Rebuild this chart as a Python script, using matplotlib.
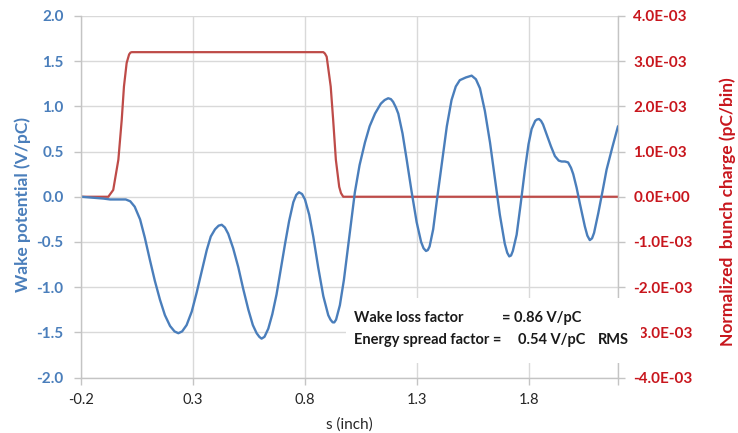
import matplotlib
matplotlib.use('Agg')
import matplotlib.pyplot as plt
from matplotlib.patches import Rectangle

plt.rcParams['font.family'] = ['Lato', 'DejaVu Sans']

# ---- data ----
s_wake = [-0.2, -0.15, -0.1, -0.07, -0.03, 0.0, 0.02, 0.04, 0.064, 0.085, 0.108, 0.13, 0.153,
          0.175, 0.198, 0.218, 0.235, 0.252, 0.272, 0.295, 0.317, 0.34, 0.362, 0.38, 0.399,
          0.415, 0.429, 0.443, 0.458, 0.48, 0.503, 0.525, 0.548, 0.568, 0.585, 0.597, 0.607,
          0.62, 0.637, 0.655, 0.674, 0.693, 0.712, 0.73, 0.749, 0.762, 0.774, 0.788, 0.801,
          0.82, 0.838, 0.86, 0.883, 0.905, 0.915, 0.925, 0.932, 0.94, 0.957, 0.975, 0.987,
          1.005, 1.024, 1.045, 1.069, 1.09, 1.114, 1.14, 1.157, 1.173, 1.185, 1.195, 1.207,
          1.218, 1.237, 1.255, 1.278, 1.30, 1.32, 1.331, 1.342, 1.35, 1.358, 1.374, 1.39,
          1.412, 1.435, 1.456, 1.475, 1.493, 1.52, 1.546, 1.565, 1.583, 1.605, 1.628, 1.65,
          1.672, 1.694, 1.705, 1.714, 1.722, 1.73, 1.747, 1.765, 1.784, 1.80, 1.814, 1.83,
          1.838, 1.847, 1.856, 1.865, 1.881, 1.90, 1.918, 1.935, 1.948, 1.963, 1.977, 1.99,
          2.0, 2.015, 2.03, 2.052, 2.063, 2.074, 2.084, 2.093, 2.112, 2.13, 2.149, 2.175, 2.2]
wake = [0.0, -0.01, -0.02, -0.03, -0.03, -0.03, -0.05, -0.11, -0.25, -0.45, -0.70, -0.93, -1.14,
        -1.31, -1.43, -1.49, -1.51, -1.49, -1.42, -1.27, -1.06, -0.82, -0.59, -0.44, -0.36,
        -0.32, -0.31, -0.34, -0.41, -0.57, -0.78, -1.02, -1.25, -1.42, -1.51, -1.55, -1.57,
        -1.55, -1.46, -1.30, -1.08, -0.80, -0.52, -0.27, -0.06, 0.02, 0.05, 0.03, -0.03,
        -0.20, -0.44, -0.78, -1.10, -1.31, -1.36, -1.39, -1.39, -1.36, -1.20, -0.92, -0.68,
        -0.32, 0.05, 0.35, 0.60, 0.78, 0.92, 1.03, 1.07, 1.09, 1.08, 1.05, 0.99,
        0.92, 0.70, 0.42, 0.05, -0.28, -0.50, -0.57, -0.60, -0.59, -0.55, -0.36, -0.05,
        0.36, 0.78, 1.07, 1.22, 1.29, 1.32, 1.34, 1.30, 1.20, 0.95, 0.60, 0.20,
        -0.20, -0.52, -0.62, -0.66, -0.65, -0.60, -0.42, -0.08, 0.30, 0.58, 0.75, 0.84,
        0.855, 0.86, 0.84, 0.80, 0.69, 0.56, 0.45, 0.40, 0.39, 0.39, 0.38, 0.32,
        0.25, 0.10, -0.08, -0.33, -0.43, -0.48, -0.46, -0.40, -0.18, 0.05, 0.30, 0.55, 0.78]

s_charge = [-0.2, -0.1, -0.078, -0.056, -0.033, -0.018, -0.008, 0.004, 0.015, 0.021, 0.027,
            0.883, 0.89, 0.898, 0.916, 0.927, 0.939, 0.954, 0.962, 0.972, 1.0, 2.2]
charge = [0.0, 0.0, 0.0, 0.15e-3, 0.82e-3, 1.7e-3, 2.44e-3, 2.96e-3, 3.15e-3, 3.19e-3, 3.2e-3,
          3.2e-3, 3.17e-3, 3.1e-3, 2.44e-3, 1.7e-3, 0.82e-3, 0.22e-3, 0.08e-3, 0.0, 0.0, 0.0]

x_ticks = [-0.2, 0.3, 0.8, 1.3, 1.8, 2.2]
x_tick_labels = ['-0.2', '0.3', '0.8', '1.3', '1.8', '']
left_ticks = [-2.0, -1.5, -1.0, -0.5, 0.0, 0.5, 1.0, 1.5, 2.0]
left_labels = ['-2.0', '-1.5', '-1.0', '-0.5', '0.0', '0.5', '1.0', '1.5', '2.0']
right_ticks = [-4e-3, -3e-3, -2e-3, -1e-3, 0.0, 1e-3, 2e-3, 3e-3, 4e-3]
right_labels = ['-4.0E-03', '-3.0E-03', '-2.0E-03', '-1.0E-03', '0.0E+00',
                '1.0E-03', '2.0E-03', '3.0E-03', '4.0E-03']

BLUE_LINE = '#4A7EBB'
RED_LINE = '#BE4B48'
BLUE_TXT = '#4A7EBB'
RED_TXT = '#C8161D'
GRID = '#D9D9D9'
SPINE = '#C4C4C4'

W, H = 738, 433
fig = plt.figure(figsize=(W / 100, H / 100), dpi=100)
L, R, T, B = 81, 618, 16, 377.5
ax = fig.add_axes([L / W, 1 - B / H, (R - L) / W, (B - T) / H])
ax2 = ax.twinx()
ax.set_zorder(2)
ax2.set_zorder(1)
ax.patch.set_visible(False)

ax2.plot(s_charge, charge, color=RED_LINE, lw=1.6, solid_capstyle='round', solid_joinstyle='round')
ax.plot(s_wake, wake, color=BLUE_LINE, lw=1.7, solid_capstyle='round', solid_joinstyle='round')

ax.set_xlim(-0.2, 2.2)
ax.set_ylim(-2.0, 2.0)
ax2.set_ylim(-4e-3, 4e-3)

ax.set_xticks(x_ticks, x_tick_labels, fontsize=10.5, color='#262626')
ax.set_yticks(left_ticks, left_labels, fontsize=11, fontweight='bold', color=BLUE_TXT)
ax2.set_yticks(right_ticks, right_labels, fontsize=11, fontweight='bold', color=RED_TXT)

# grid drawn on the lower axes so the curves sit on top
ax2.xaxis.set_visible(True)
ax2.tick_params(axis='x', bottom=False, top=False, labelbottom=False, labeltop=False)
ax2.grid(True, axis='both', color=GRID, lw=1.0)
ax.grid(False)

for a in (ax, ax2):
    for sp in a.spines.values():
        sp.set_visible(False)
ax.spines['left'].set_visible(True)
ax.spines['bottom'].set_visible(True)
ax2.spines['right'].set_visible(True)
for sp in (ax.spines['left'], ax.spines['bottom'], ax2.spines['right']):
    sp.set_color(SPINE)
    sp.set_linewidth(1.0)

ax.tick_params(axis='x', direction='out', length=5, width=1.0, color=SPINE, pad=6)
ax.tick_params(axis='y', direction='out', length=5, width=1.0, color=SPINE, pad=7.5)
ax2.tick_params(axis='y', direction='out', length=5, width=1.0, color=SPINE, pad=6)

# axis titles
fig.text(22.5 / W, 1 - 205 / H, 'Wake potential (V/pC)', rotation=90, ha='center', va='center',
         fontsize=12.5, fontweight='bold', color=BLUE_TXT)
fig.text(728 / W, 1 - 212 / H, 'Normalized  bunch charge (pC/bin)', rotation=90, ha='center',
         va='center', fontsize=12.5, fontweight='bold', color=RED_TXT)
fig.text(349 / W, 1 - 425 / H, 's (inch)', ha='center', va='center', fontsize=11, color='#262626')

# annotation box (white background)
fig.add_artist(Rectangle((346 / W, 1 - 363 / H), (641 - 346) / W, (363 - 298) / H,
                         transform=fig.transFigure, facecolor='white', edgecolor='none', zorder=5))
tkw = dict(fontsize=10.5, fontweight='bold', color='#1a1a1a', va='baseline', ha='left', zorder=6)
fig.text(354 / W, 1 - 321.7 / H, 'Wake loss factor', **tkw)
fig.text(502 / W, 1 - 321.7 / H, '= 0.86 V/pC', **tkw)
fig.text(354 / W, 1 - 344 / H, 'Energy spread factor =', **tkw)
fig.text(518 / W, 1 - 344 / H, '0.54 V/pC', **tkw)
tkw_r = dict(tkw, ha='right')
fig.text(629 / W, 1 - 344 / H, 'RMS', **tkw_r)

fig.savefig('out.png', dpi=100)
